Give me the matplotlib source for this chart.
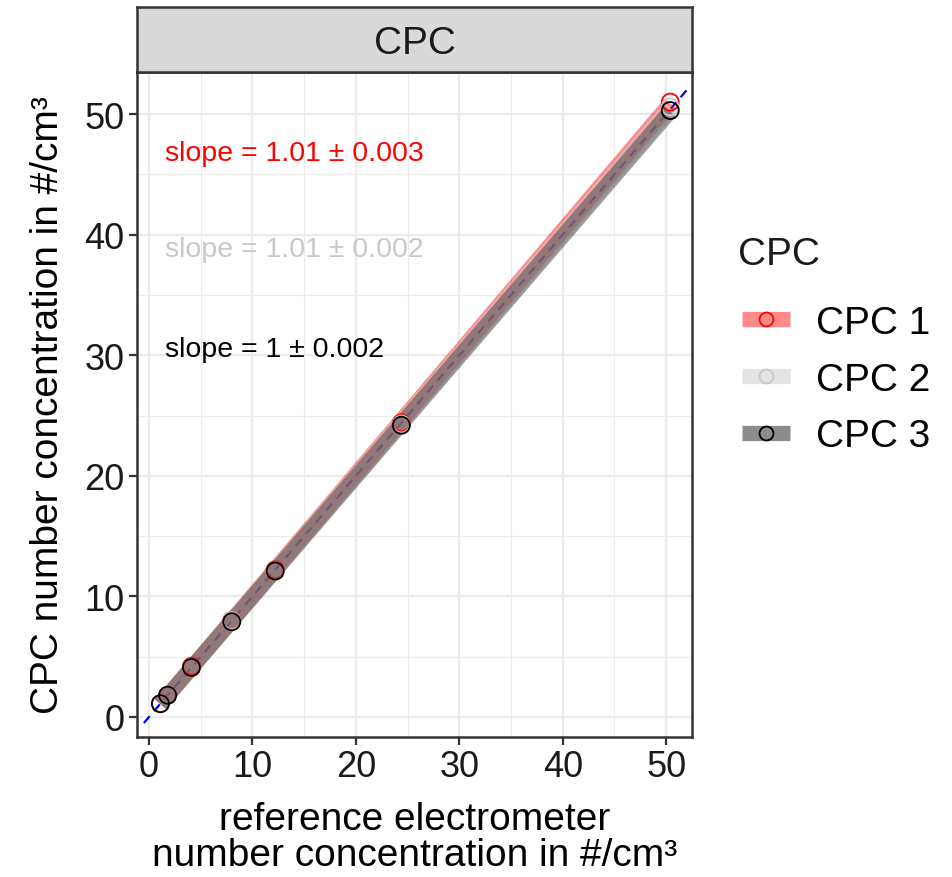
import numpy as np
import matplotlib.pyplot as plt
from matplotlib.lines import Line2D

plt.rcParams['font.family'] = ['Liberation Sans', 'DejaVu Sans']

# Datos
ref = [1.1, 1.8, 4.1, 8.0, 12.2, 24.4, 50.4]
cpc1 = [1.1, 1.8, 4.2, 8.0, 12.2, 24.4, 51.0]
cpc2 = [1.1, 1.8, 4.1, 8.0, 12.1, 24.3, 50.6]
cpc3 = [1.1, 1.8, 4.1, 7.9, 12.1, 24.2, 50.3]
series = ['CPC 1', 'CPC 2', 'CPC 3']
slope_txt = ['slope = 1.01 ± 0.003', 'slope = 1.01 ± 0.002', 'slope = 1 ± 0.002']
text_y = [46.8, 38.8, 30.5]

band_col = ['#ff0000', '#d0d0d0', '#404040']
band_alpha = [0.45, 0.55, 0.5]
edge_col = ['#ff0000', '#c8c8c8', '#000000']
legend_fill = ['#ff8a8a', '#e3e3e3', '#8c8c8c']

fig = plt.figure(figsize=(9.53, 8.78), dpi=100)
ax = fig.add_axes([0.1438, 0.1595, 0.7261 - 0.1438, 0.9169 - 0.1595])

# línea 1:1
ax.plot([-0.5, 52], [-0.5, 52], color='blue', ls=(0, (4, 3)), lw=1.6, zorder=2)

datos = [cpc1, cpc2, cpc3]
for i, y in enumerate(datos):
    m, b = np.polyfit(ref, y, 1)
    xx = np.array([min(ref), max(ref)])
    ax.plot(xx, m * xx + b, color=band_col[i], alpha=band_alpha[i], lw=11,
            solid_capstyle='butt', zorder=3)
for i, y in enumerate(datos):
    ax.scatter(ref, y, s=150, facecolors='none', edgecolors=edge_col[i],
               linewidths=1.3, zorder=4 + i)

for i, t in enumerate(slope_txt):
    ax.text(1.5, text_y[i], t, color=edge_col[i], fontsize=20.5, va='center', ha='left')

ax.set_xlim(-1.16, 52.5)
ax.set_ylim(-1.66, 53.5)
ax.set_xticks(np.arange(0, 51, 10))
ax.set_yticks(np.arange(0, 51, 10))
ax.set_xticks(np.arange(5, 51, 10), minor=True)
ax.set_yticks(np.arange(5, 51, 10), minor=True)
ax.grid(which='major', color='#ebebeb', lw=1.6, zorder=0)
ax.grid(which='minor', color='#ebebeb', lw=0.8, zorder=0)
ax.set_axisbelow(True)
ax.tick_params(which='major', length=6, width=1.6, color='#333333', labelsize=26,
               labelcolor='#1a1a1a', pad=3)
ax.tick_params(which='minor', length=0)
for s in ax.spines.values():
    s.set_color('#333333')
    s.set_linewidth(1.8)

ax.set_xlabel('reference electrometer\nnumber concentration in #/cm³', fontsize=28,
              labelpad=12, linespacing=1.0)
ax.set_ylabel('CPC number concentration in #/cm³', fontsize=28, labelpad=13)

# franja del facet
strip = fig.add_axes([0.1438, 0.9169, 0.7261 - 0.1438, 0.991 - 0.9169])
strip.set_facecolor('#d9d9d9')
strip.set_xticks([])
strip.set_yticks([])
for s in strip.spines.values():
    s.set_color('#333333')
    s.set_linewidth(1.8)
strip.text(0.5, 0.45, 'CPC', fontsize=28, ha='center', va='center', color='#1a1a1a',
           transform=strip.transAxes)

# leyenda
fig.text(738 / 953, 1 - 255 / 878, 'CPC', fontsize=28, ha='left', va='center',
         color='#1a1a1a')
handles = [Line2D([0], [0], color=legend_fill[i], lw=11, marker='o', ms=10,
                  mfc='none', mec=edge_col[i], mew=1.3, solid_capstyle='butt')
           for i in range(3)]
leg = fig.legend(handles, series, loc='upper left',
                 bbox_to_anchor=(742 / 953, 1 - 306 / 878), frameon=False, fontsize=28,
                 handlelength=1.24, labelspacing=0.53,
                 handletextpad=0.65, borderpad=0, borderaxespad=0)

fig.savefig('out.png', dpi=100)
